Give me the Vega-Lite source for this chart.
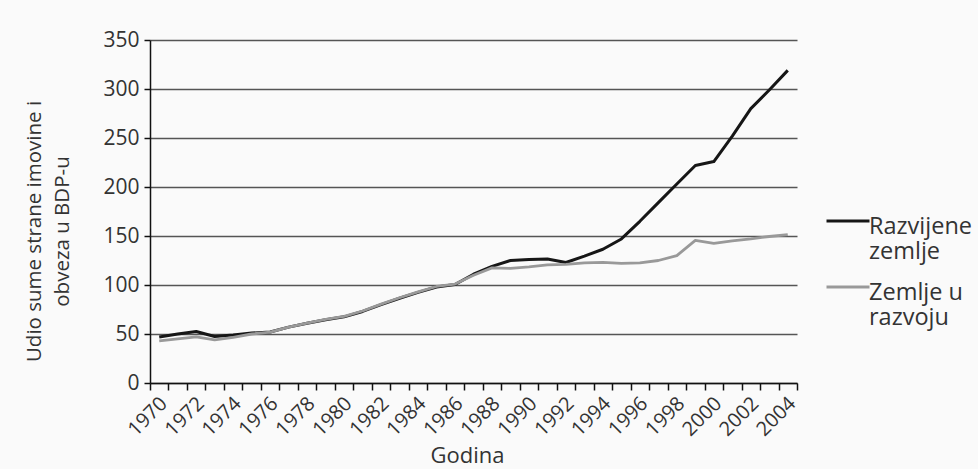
{
  "$schema": "https://vega.github.io/schema/vega-lite/v6.json",
  "width": 647,
  "height": 343,
  "autosize": {"type": "none"},
  "padding": {"left": 150, "top": 40, "right": 181, "bottom": 86},
  "background": "#fafafa",
  "config": {
    "font": "Open Sans",
    "view": {"stroke": null}
  },
  "data": {
    "values": [
      {"godina": 1970, "serija": "Razvijene zemlje", "vrijednost": 47},
      {"godina": 1971, "serija": "Razvijene zemlje", "vrijednost": 50},
      {"godina": 1972, "serija": "Razvijene zemlje", "vrijednost": 52.5},
      {"godina": 1973, "serija": "Razvijene zemlje", "vrijednost": 47.5},
      {"godina": 1974, "serija": "Razvijene zemlje", "vrijednost": 49},
      {"godina": 1975, "serija": "Razvijene zemlje", "vrijednost": 51},
      {"godina": 1976, "serija": "Razvijene zemlje", "vrijednost": 52},
      {"godina": 1977, "serija": "Razvijene zemlje", "vrijednost": 57},
      {"godina": 1978, "serija": "Razvijene zemlje", "vrijednost": 61},
      {"godina": 1979, "serija": "Razvijene zemlje", "vrijednost": 64.5},
      {"godina": 1980, "serija": "Razvijene zemlje", "vrijednost": 67.5},
      {"godina": 1981, "serija": "Razvijene zemlje", "vrijednost": 73},
      {"godina": 1982, "serija": "Razvijene zemlje", "vrijednost": 80},
      {"godina": 1983, "serija": "Razvijene zemlje", "vrijednost": 86.5},
      {"godina": 1984, "serija": "Razvijene zemlje", "vrijednost": 92.5},
      {"godina": 1985, "serija": "Razvijene zemlje", "vrijednost": 98},
      {"godina": 1986, "serija": "Razvijene zemlje", "vrijednost": 100.5},
      {"godina": 1987, "serija": "Razvijene zemlje", "vrijednost": 111},
      {"godina": 1988, "serija": "Razvijene zemlje", "vrijednost": 119},
      {"godina": 1989, "serija": "Razvijene zemlje", "vrijednost": 125},
      {"godina": 1990, "serija": "Razvijene zemlje", "vrijednost": 126},
      {"godina": 1991, "serija": "Razvijene zemlje", "vrijednost": 126.5},
      {"godina": 1992, "serija": "Razvijene zemlje", "vrijednost": 123},
      {"godina": 1993, "serija": "Razvijene zemlje", "vrijednost": 129.5},
      {"godina": 1994, "serija": "Razvijene zemlje", "vrijednost": 136.5},
      {"godina": 1995, "serija": "Razvijene zemlje", "vrijednost": 147},
      {"godina": 1996, "serija": "Razvijene zemlje", "vrijednost": 165},
      {"godina": 1997, "serija": "Razvijene zemlje", "vrijednost": 184},
      {"godina": 1998, "serija": "Razvijene zemlje", "vrijednost": 203},
      {"godina": 1999, "serija": "Razvijene zemlje", "vrijednost": 222},
      {"godina": 2000, "serija": "Razvijene zemlje", "vrijednost": 226},
      {"godina": 2001, "serija": "Razvijene zemlje", "vrijednost": 252},
      {"godina": 2002, "serija": "Razvijene zemlje", "vrijednost": 280},
      {"godina": 2003, "serija": "Razvijene zemlje", "vrijednost": 299},
      {"godina": 2004, "serija": "Razvijene zemlje", "vrijednost": 319},
      {"godina": 1970, "serija": "Zemlje u razvoju", "vrijednost": 43},
      {"godina": 1971, "serija": "Zemlje u razvoju", "vrijednost": 45},
      {"godina": 1972, "serija": "Zemlje u razvoju", "vrijednost": 47},
      {"godina": 1973, "serija": "Zemlje u razvoju", "vrijednost": 44},
      {"godina": 1974, "serija": "Zemlje u razvoju", "vrijednost": 46.5},
      {"godina": 1975, "serija": "Zemlje u razvoju", "vrijednost": 50},
      {"godina": 1976, "serija": "Zemlje u razvoju", "vrijednost": 52},
      {"godina": 1977, "serija": "Zemlje u razvoju", "vrijednost": 57},
      {"godina": 1978, "serija": "Zemlje u razvoju", "vrijednost": 61},
      {"godina": 1979, "serija": "Zemlje u razvoju", "vrijednost": 65},
      {"godina": 1980, "serija": "Zemlje u razvoju", "vrijednost": 68},
      {"godina": 1981, "serija": "Zemlje u razvoju", "vrijednost": 73.5},
      {"godina": 1982, "serija": "Zemlje u razvoju", "vrijednost": 80.5},
      {"godina": 1983, "serija": "Zemlje u razvoju", "vrijednost": 87},
      {"godina": 1984, "serija": "Zemlje u razvoju", "vrijednost": 93},
      {"godina": 1985, "serija": "Zemlje u razvoju", "vrijednost": 98.5},
      {"godina": 1986, "serija": "Zemlje u razvoju", "vrijednost": 101},
      {"godina": 1987, "serija": "Zemlje u razvoju", "vrijednost": 110},
      {"godina": 1988, "serija": "Zemlje u razvoju", "vrijednost": 117.5},
      {"godina": 1989, "serija": "Zemlje u razvoju", "vrijednost": 117},
      {"godina": 1990, "serija": "Zemlje u razvoju", "vrijednost": 118.5},
      {"godina": 1991, "serija": "Zemlje u razvoju", "vrijednost": 120.5},
      {"godina": 1992, "serija": "Zemlje u razvoju", "vrijednost": 121},
      {"godina": 1993, "serija": "Zemlje u razvoju", "vrijednost": 122.5},
      {"godina": 1994, "serija": "Zemlje u razvoju", "vrijednost": 123},
      {"godina": 1995, "serija": "Zemlje u razvoju", "vrijednost": 122},
      {"godina": 1996, "serija": "Zemlje u razvoju", "vrijednost": 122.5},
      {"godina": 1997, "serija": "Zemlje u razvoju", "vrijednost": 125},
      {"godina": 1998, "serija": "Zemlje u razvoju", "vrijednost": 130},
      {"godina": 1999, "serija": "Zemlje u razvoju", "vrijednost": 145.5},
      {"godina": 2000, "serija": "Zemlje u razvoju", "vrijednost": 142.5},
      {"godina": 2001, "serija": "Zemlje u razvoju", "vrijednost": 145},
      {"godina": 2002, "serija": "Zemlje u razvoju", "vrijednost": 147},
      {"godina": 2003, "serija": "Zemlje u razvoju", "vrijednost": 149.5},
      {"godina": 2004, "serija": "Zemlje u razvoju", "vrijednost": 151.5}
    ]
  },
  "mark": {"type": "line", "strokeJoin": "round"},
  "encoding": {
    "x": {
      "field": "godina",
      "type": "quantitative",
      "scale": {"domain": [1969.5, 2004.5], "nice": false, "zero": false},
      "axis": {
        "title": "Godina",
        "grid": false,
        "values": [1969.5, 1970.5, 1971.5, 1972.5, 1973.5, 1974.5, 1975.5, 1976.5, 1977.5, 1978.5, 1979.5, 1980.5, 1981.5, 1982.5, 1983.5, 1984.5, 1985.5, 1986.5, 1987.5, 1988.5, 1989.5, 1990.5, 1991.5, 1992.5, 1993.5, 1994.5, 1995.5, 1996.5, 1997.5, 1998.5, 1999.5, 2000.5, 2001.5, 2002.5, 2003.5, 2004.5],
        "labelExpr": "(datum.value - 0.5) % 2 == 0 ? format(datum.value - 0.5, 'd') : ''",
        "labelOverlap": false,
        "labelFlush": false,
        "labelBound": false,
        "labelAngle": -45,
        "labelAlign": "right",
        "labelBaseline": "top",
        "labelOffset": -12,
        "labelPadding": 3,
        "labelFontSize": 20,
        "labelColor": "#333333",
        "domainColor": "#111111",
        "domainWidth": 1.5,
        "tickColor": "#111111",
        "tickWidth": 1.5,
        "tickSize": 7,
        "titleFontSize": 22,
        "titleFontWeight": "normal",
        "titleColor": "#333333",
        "titleX": 317,
        "titleY": 79,
        "titleBaseline": "alphabetic"
      }
    },
    "y": {
      "field": "vrijednost",
      "type": "quantitative",
      "scale": {"domain": [0, 350], "nice": false},
      "axis": {
        "title": ["Udio sume strane imovine i", "obveza u BDP-u"],
        "values": [0, 50, 100, 150, 200, 250, 300, 350],
        "grid": true,
        "gridColor": "#555555",
        "gridWidth": 1.4,
        "domainColor": "#111111",
        "domainWidth": 1.5,
        "tickColor": "#111111",
        "tickWidth": 1.5,
        "tickSize": 6,
        "labelFontSize": 21,
        "labelColor": "#333333",
        "labelPadding": 5,
        "titleFontSize": 20.5,
        "titleFontWeight": "normal",
        "titleColor": "#333333",
        "titleLineHeight": 28,
        "titleAngle": 270,
        "titleAlign": "center",
        "titleBaseline": "alphabetic",
        "titleX": -110,
        "titleY": 191
      }
    },
    "color": {
      "field": "serija",
      "type": "nominal",
      "scale": {"domain": ["Razvijene zemlje", "Zemlje u razvoju"], "range": ["#161616", "#999999"]},
      "legend": {
        "title": null,
        "orient": "none",
        "legendX": 675,
        "legendY": 158,
        "padding": 0,
        "symbolType": "stroke",
        "symbolSize": 1849,
        "symbolStrokeWidth": 2.6,
        "labelFontSize": 23.5,
        "labelColor": "#333333",
        "labelOffset": -2,
        "labelLimit": 300,
        "labelBaseline": "top",
        "rowPadding": -5,
        "labelExpr": "datum.label == 'Razvijene zemlje' ? ['Razvijene', 'zemlje'] : ['Zemlje u', 'razvoju']",
        "encode": {
          "labels": {"update": {"dy": {"value": -6}, "lineHeight": {"value": 25}}}
        }
      }
    },
    "strokeWidth": {
      "field": "serija",
      "type": "nominal",
      "scale": {"domain": ["Razvijene zemlje", "Zemlje u razvoju"], "range": [3, 2.8]},
      "legend": null
    }
  }
}
